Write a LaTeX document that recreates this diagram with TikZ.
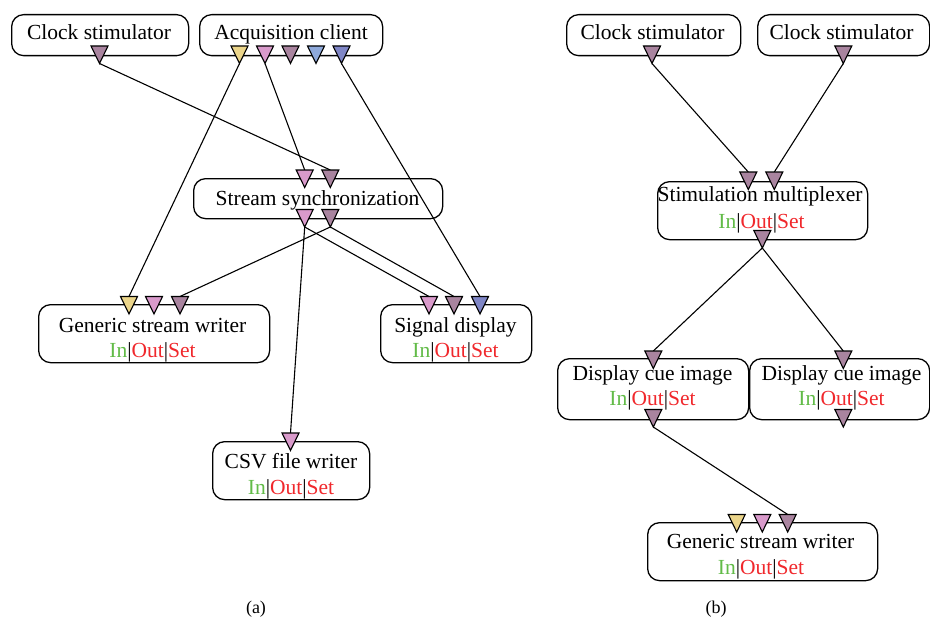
\documentclass[tikz,border=0pt]{standalone}
\usepackage{fontspec}
\setmainfont{Liberation Serif}
\definecolor{pyellow}{HTML}{EBD58A}
\definecolor{ppink}{HTML}{D99ACB}
\definecolor{ppurple}{HTML}{A9849F}
\definecolor{plblue}{HTML}{8EA9DB}
\definecolor{pdblue}{HTML}{7F86C6}
\definecolor{ingreen}{HTML}{62BB48}
\definecolor{outred}{HTML}{F0282C}
\newcommand\iosline{\textcolor{ingreen}{In}|\textcolor{outred}{Out}|\textcolor{outred}{Set}}
% port: name, x, ytop
\newcommand\portdef[3]{%
  \coordinate (#1) at (#2,#3);
  \coordinate (#1-tip) at (#2,#3+17.5);}
\newcommand\portdraw[2]{%
  \draw[porttri,fill=#2] ([xshift=-8.5pt]#1) -- ([xshift=8.5pt]#1) -- (#1-tip) -- cycle;}
\begin{document}
\begin{tikzpicture}[x=1pt,y=-1pt,
  box/.style={draw, line width=1.3pt, rounded corners=12pt, inner sep=0pt, anchor=north west},
  lbl/.style={inner sep=0pt, anchor=base, font=\fontsize{21.5}{24}\selectfont},
  captxt/.style={inner sep=0pt, anchor=base, font=\fontsize{18}{20}\selectfont},
  wire/.style={line width=1.1pt},
  porttri/.style={line width=1.1pt, line join=miter}]
\useasboundingbox (0,0) rectangle (930,618);

% ---------- panel (a) boxes ----------
\node[box, minimum width=177pt, minimum height=41pt] (cs) at (11,14) {};
\node[lbl] (cst) at (99,40) {Clock stimulator};
\node[box, minimum width=183pt, minimum height=41pt] (ac) at (199,14) {};
\node[lbl] (act) at (291,40) {Acquisition client};
\node[box, minimum width=249pt, minimum height=40pt] (ss) at (193,178) {};
\node[lbl] (sst) at (317.5,205) {Stream synchronization};
\node[box, minimum width=231pt, minimum height=58pt] (gwa) at (38,304) {};
\node[lbl] (gwat) at (152.5,332) {Generic stream writer};
\node[lbl] (gwai) at (152.5,357) {\iosline};
\node[box, minimum width=151pt, minimum height=58pt] (sd) at (380,304) {};
\node[lbl] (sdt) at (455.5,332) {Signal display};
\node[lbl] (sdi) at (455.5,357) {\iosline};
\node[box, minimum width=157pt, minimum height=58pt] (csv) at (212,441) {};
\node[lbl] (csvt) at (291,468) {CSV file writer};
\node[lbl] (csvi) at (291,494) {\iosline};
\node[captxt] (capa) at (256,613) {(a)};

% ---------- panel (b) boxes ----------
\node[box, minimum width=174pt, minimum height=41pt] (csb1) at (566,14) {};
\node[lbl] (csb1t) at (652.5,40) {Clock stimulator};
\node[box, minimum width=172pt, minimum height=41pt] (csb2) at (757,14) {};
\node[lbl] (csb2t) at (841.5,40) {Clock stimulator};
\node[box, minimum width=210pt, minimum height=58pt] (mux) at (657,181) {};
\node[lbl] (muxt) at (760,201.5) {Stimulation multiplexer};
\node[lbl] (muxi) at (761.5,228) {\iosline};
\node[box, minimum width=191pt, minimum height=61pt] (dc1) at (557,358) {};
\node[lbl] (dc1t) at (652.5,380) {Display cue image};
\node[lbl] (dc1i) at (652.5,405.5) {\iosline};
\node[box, minimum width=180pt, minimum height=61pt] (dc2) at (749,358) {};
\node[lbl] (dc2t) at (841.5,380) {Display cue image};
\node[lbl] (dc2i) at (841.5,405.5) {\iosline};
\node[box, minimum width=230pt, minimum height=58pt] (gwb) at (647,522) {};
\node[lbl] (gwbt) at (760.5,548) {Generic stream writer};
\node[lbl] (gwbi) at (761,574) {\iosline};
\node[captxt] (capb) at (716,613) {(b)};

% ---------- ports ----------
\portdef{csp}{99.5}{46}
\portdef{ac1}{239.5}{46}\portdef{ac2}{265}{46}\portdef{ac3}{290.5}{46}\portdef{ac4}{316}{46}\portdef{ac5}{341.5}{46}
\portdef{ssi1}{304.7}{170}\portdef{ssi2}{330.3}{170}
\portdef{sso1}{304.7}{209.5}\portdef{sso2}{330.3}{209.5}
\portdef{gwa1}{129}{296.5}\portdef{gwa2}{154}{296.5}\portdef{gwa3}{180}{296.5}
\portdef{sd1}{429}{296.5}\portdef{sd2}{454}{296.5}\portdef{sd3}{480}{296.5}
\portdef{csvp}{290.5}{433}
\portdef{cb1}{652}{46}\portdef{cb2}{843.3}{46}
\portdef{mi1}{748.3}{172}\portdef{mi2}{774.3}{172}
\portdef{mo}{762.3}{230.5}
\portdef{d1i}{653.3}{351}\portdef{d1o}{653.3}{409.5}
\portdef{d2i}{843.3}{351}\portdef{d2o}{843.3}{409.5}
\portdef{gwb1}{736.7}{514.5}\portdef{gwb2}{762.3}{514.5}\portdef{gwb3}{787.7}{514.5}

% ---------- connectors ----------
\draw[wire] (csp-tip) -- (ssi2);
\draw[wire] (ac1-tip) -- (gwa1);
\draw[wire] (ac2-tip) -- (ssi1);
\draw[wire] (ac5-tip) -- (sd3);
\draw[wire] (sso1-tip) -- (csvp);
\draw[wire] (sso1-tip) -- (sd1);
\draw[wire] (sso2-tip) -- (sd2);
\draw[wire] (sso2-tip) -- (gwa3);
\draw[wire] (cb1-tip) -- (mi1);
\draw[wire] (cb2-tip) -- (mi2);
\draw[wire] (mo-tip) -- (d1i);
\draw[wire] (mo-tip) -- (d2i);
\draw[wire] (d1o-tip) -- (gwb3);

% ---------- port triangles ----------
\portdraw{csp}{ppurple}
\portdraw{ac1}{pyellow}\portdraw{ac2}{ppink}\portdraw{ac3}{ppurple}\portdraw{ac4}{plblue}\portdraw{ac5}{pdblue}
\portdraw{ssi1}{ppink}\portdraw{ssi2}{ppurple}
\portdraw{sso1}{ppink}\portdraw{sso2}{ppurple}
\portdraw{gwa1}{pyellow}\portdraw{gwa2}{ppink}\portdraw{gwa3}{ppurple}
\portdraw{sd1}{ppink}\portdraw{sd2}{ppurple}\portdraw{sd3}{pdblue}
\portdraw{csvp}{ppink}
\portdraw{cb1}{ppurple}\portdraw{cb2}{ppurple}
\portdraw{mi1}{ppurple}\portdraw{mi2}{ppurple}
\portdraw{mo}{ppurple}
\portdraw{d1i}{ppurple}\portdraw{d1o}{ppurple}
\portdraw{d2i}{ppurple}\portdraw{d2o}{ppurple}
\portdraw{gwb1}{pyellow}\portdraw{gwb2}{ppink}\portdraw{gwb3}{ppurple}
\end{tikzpicture}
\end{document}
